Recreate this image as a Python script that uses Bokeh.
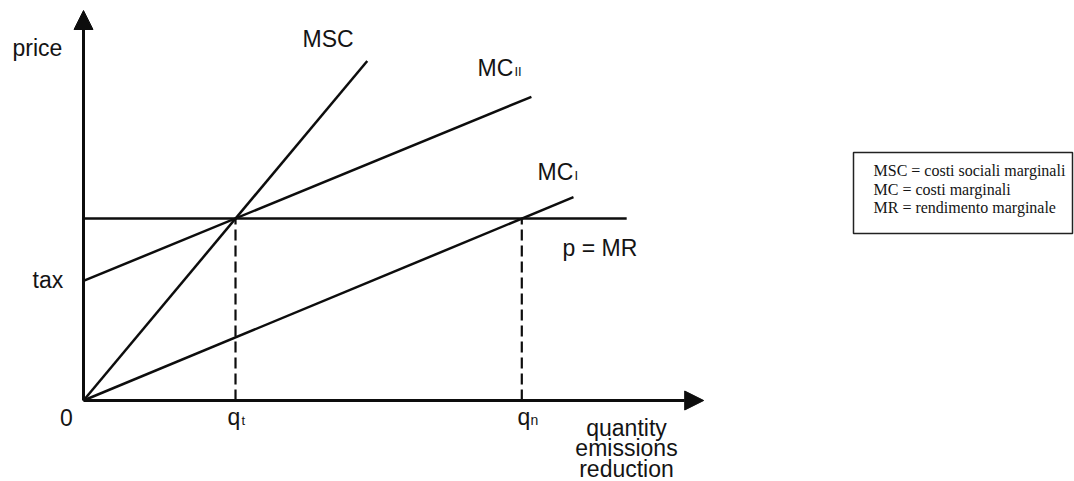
from bokeh.plotting import figure
from bokeh.models import Range1d, Arrow, NormalHead
from bokeh.core.properties import value
from bokeh.embed import file_html
from bokeh.resources import INLINE

# ---- chart values (abstract units) ----
q_t = 3.0          # quantity with tax
q_n = 8.65         # quantity without tax
p_mr = 3.5         # price = marginal revenue
tax = 2.3          # intercept of MC_II

msc_x = [0.0, 5.6]
msc_y = [0.0, 6.53]
mc2_x = [0.0, 8.84]
mc2_y = [2.3, 5.84]
mc1_x = [0.0, 9.67]
mc1_y = [0.0, 3.91]
pmr_x = [0.0, 10.72]
pmr_y = [3.5, 3.5]
x_axis_end = 12.24
y_axis_end = 7.5

legend_lines = ["MSC = costi sociali marginali",
                "MC = costi marginali",
                "MR = rendimento marginale"]

# ---- layout helpers (pixels -> data) ----
W, H = 1074, 481
OX, OY = 83, 400
SX, SY = 50.67, 52.0


def X(px):
    return (px - OX) / SX


def Y(py):
    return (OY - py) / SY


p = figure(width=W, height=H, output_backend="svg", toolbar_location=None,
           x_axis_type=None, y_axis_type=None, min_border=0,
           x_range=Range1d(-OX / SX, (W - OX) / SX),
           y_range=Range1d(-(H - OY) / SY, OY / SY))
p.outline_line_color = None
p.background_fill_color = "white"
p.border_fill_color = "white"

INK = "#0d0d0d"
TXT = "#141414"
SANS = value("Liberation Sans")
SERIF = value("Liberation Serif")

# axes with arrow heads
p.add_layout(Arrow(end=NormalHead(size=19, fill_color=INK, line_color=INK, line_width=1),
                   x_start=0, y_start=0, x_end=x_axis_end, y_end=0,
                   line_color=INK, line_width=3))
p.add_layout(Arrow(end=NormalHead(size=19, fill_color=INK, line_color=INK, line_width=1),
                   x_start=0, y_start=0, x_end=0, y_end=y_axis_end,
                   line_color=INK, line_width=3))

# curves
p.line(pmr_x, pmr_y, line_color=INK, line_width=2.5)
p.line(msc_x, msc_y, line_color=INK, line_width=2.5)
p.line(mc2_x, mc2_y, line_color=INK, line_width=2.5)
p.line(mc1_x, mc1_y, line_color=INK, line_width=2.5)

# dashed verticals
p.segment(x0=[q_t, q_n], y0=[0, 0], x1=[q_t, q_n], y1=[p_mr, p_mr],
          line_color=INK, line_width=2.2, line_dash="11 5")


# labels: baseline given in pixels; compensate renderer's baseline shift
def lab(x, base, t, size, font=SANS, align="left"):
    p.text(x=[x], y=[Y(base - 0.43 * size)], text=[t], text_font=font,
           text_font_size=f"{size}px", text_color=TXT, text_align=align,
           text_baseline="alphabetic")


lab(X(12), 57, "price", 23)
lab(X(32), 289, "tax", 23)
lab(X(66), 427, "0", 23, align="center")
lab(X(302), 48, "MSC", 23)
lab(X(477), 77, "MC", 23)
lab(X(514), 77, "II", 13)
lab(X(537), 181, "MC", 23)
lab(X(574), 181, "I", 13)
lab(X(562), 257, "p = MR", 23)
lab(X(227), 426, "q", 23)
lab(X(241), 426, "t", 13)
lab(X(517), 426, "q", 23)
lab(X(530), 426, "n", 14)
lab(X(626), 437, "quantity", 23, align="center")
lab(X(626), 457.5, "emissions", 23, align="center")
lab(X(626), 478, "reduction", 23, align="center")

# legend box
p.quad(left=[X(853)], right=[X(1072)], top=[Y(152)], bottom=[Y(233)],
       fill_color=None, line_color="#222222", line_width=1.5)
for i, t in enumerate(legend_lines):
    lab(X(873), 177 + 18.5 * i, t, 16, font=SERIF)

open("out.html", "w").write(file_html(p, INLINE))
